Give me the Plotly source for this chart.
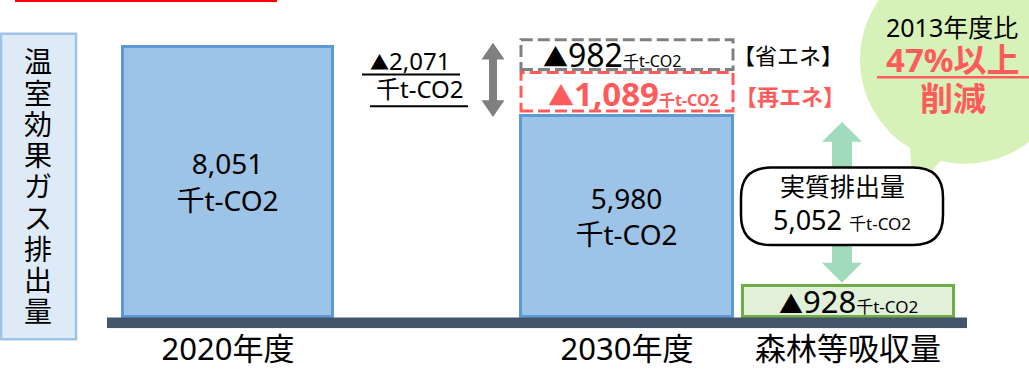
import plotly.graph_objects as go

# ---- data ----
categories = ["2020年度", "2030年度", "森林等吸収量"]
emissions = [8051, 5980, 928]          # 千t-CO2
reduction_total = 2071                 # 2020 -> 2030
reduction_saving = 982                 # 省エネ
reduction_renew = 1089                 # 再エネ
net_emission = 5052                    # 実質排出量
cut_ratio_label = "47%以上"
unit = "千t-CO2"
ylabel_text = "温室効果ガス排出量"

W, H = 1029, 369
FONT = "Noto Sans, Noto Sans CJK JP, sans-serif"
k = 273 / 8051.0                        # px per unit


def v(py):
    return (320 - py) / k


def P(x, y):
    return x / W, 1 - y / H


def path(points, close=True):
    s = ""
    for i, (x, y) in enumerate(points):
        px, pyy = P(x, y)
        s += ("M" if i == 0 else "L") + f"{px:.5f},{pyy:.5f} "
    return s + ("Z" if close else "")


def dbl_arrow(cx, ty, by, hw, hh, sw):
    pts = [(cx, ty), (cx + hw, ty + hh), (cx + sw, ty + hh), (cx + sw, by - hh),
           (cx + hw, by - hh), (cx, by), (cx - hw, by - hh), (cx - sw, by - hh),
           (cx - sw, ty + hh), (cx - hw, ty + hh)]
    return path(pts)


def round_rect(x0, y0, x1, y1, r):
    def p(x, y):
        a, b = P(x, y)
        return f"{a:.5f},{b:.5f}"
    return (f"M{p(x0 + r, y0)} L{p(x1 - r, y0)} Q{p(x1, y0)} {p(x1, y0 + r)} "
            f"L{p(x1, y1 - r)} Q{p(x1, y1)} {p(x1 - r, y1)} L{p(x0 + r, y1)} "
            f"Q{p(x0, y1)} {p(x0, y1 - r)} L{p(x0, y0 + r)} Q{p(x0, y0)} {p(x0 + r, y0)} Z")


def tri(size):
    return f"<span style='font-size:{size}px'>▲</span>"


def small(text, size):
    return f"<span style='font-size:{size}px'>{text}</span>"


xpos = [228, 627, 848]
widths = [210, 212, 211]
fills = ["#9DC3E6", "#9DC3E6", "#E2F0D9"]
lines = ["#5B9BD5", "#5B9BD5", "#70AD47"]
texts = [f"{emissions[0]:,}<br>{unit}", f"{emissions[1]:,}<br>{unit}", ""]

fig = go.Figure()
fig.add_trace(go.Bar(
    x=xpos, y=emissions, width=widths,
    marker=dict(color=fills, line=dict(color=lines, width=3)),
    text=texts, textposition="inside", insidetextanchor="middle",
    textangle=0, textfont=dict(size=28, color="black", family=FONT),
    hoverinfo="skip",
))

shapes = []
# y-axis label box
x0, y0 = P(1, 34); x1, y1 = P(76, 342)
shapes.append(dict(type="rect", xref="paper", yref="paper", x0=x0, y0=y0, x1=x1, y1=y1,
                   fillcolor="#DEEBF7", line=dict(color="#9DC3E6", width=2.5), layer="below"))
# red line at top
a0, b0 = P(15, 1); a1, b1 = P(277, 1)
shapes.append(dict(type="line", xref="paper", yref="paper", x0=a0, y0=b0, x1=a1, y1=b1,
                   line=dict(color="#FF0000", width=2)))
# bubble
cx0, cy0 = P(860, -45); cx1, cy1 = P(1070, 165)
shapes.append(dict(type="circle", xref="paper", yref="paper", x0=cx0, y0=cy1, x1=cx1, y1=cy0,
                   fillcolor="#D6F2B8", line=dict(width=0)))
shapes.append(dict(type="path", xref="paper", yref="paper",
                   path=path([(910, 148), (946, 156), (913, 194)]),
                   fillcolor="#D6F2B8", line=dict(width=0)))
# green double arrow
shapes.append(dict(type="path", xref="paper", yref="paper",
                   path=dbl_arrow(842, 123, 285, 20, 20, 10),
                   fillcolor="#A0DCBC", line=dict(width=0)))
# callout box
shapes.append(dict(type="path", xref="paper", yref="paper",
                   path=round_rect(741, 169, 943, 247, 30),
                   fillcolor="white", line=dict(color="black", width=2.5)))
# gray double arrow
shapes.append(dict(type="path", xref="paper", yref="paper",
                   path=dbl_arrow(493, 43, 118, 11.5, 17, 4),
                   fillcolor="#808080", line=dict(width=0)))
# dashed boxes (renewable / energy saving)
bx0, bx1 = xpos[1] - widths[1] / 2, xpos[1] + widths[1] / 2
shapes.append(dict(type="rect", xref="x", yref="y", x0=bx0, x1=bx1,
                   y0=v(112), y1=v(73), line=dict(color="#FF5B5B", width=3, dash="12px,5px")))
shapes.append(dict(type="rect", xref="x", yref="y", x0=bx0, x1=bx1,
                   y0=v(70), y1=v(40), line=dict(color="#808080", width=3, dash="12px,5px")))
# baseline
shapes.append(dict(type="rect", xref="x", yref="y", x0=107, x1=967, y0=v(331), y1=0,
                   fillcolor="#44546A", line=dict(width=0)))
# underlines
for (xa, xb, yy, col, wd) in [(362, 460, 75, "black", 2), (370, 468, 107, "black", 2),
                              (877, 1029, 78, "#FF5B5B", 2.5)]:
    a0, b0 = P(xa, yy); a1, b1 = P(xb, yy)
    shapes.append(dict(type="line", xref="paper", yref="paper", x0=a0, y0=b0, x1=a1, y1=b1,
                       line=dict(color=col, width=wd)))

ann = []


def add(x, y, text, size, color="black", bold=False, xanchor="center"):
    px, pyy = P(x, y)
    if bold:
        text = f"<b>{text}</b>"
    ann.append(dict(x=px, y=pyy, xref="paper", yref="paper", text=text, showarrow=False,
                    xanchor=xanchor, yanchor="middle",
                    font=dict(size=size, color=color, family=FONT)))


# vertical y label
for i, ch in enumerate(ylabel_text):
    add(38, 62 + i * 31.5, ch, 28)

add(410, 61, f"{tri(19)}{reduction_total:,}", 24)
add(420, 89, unit, 24)

add(612, 55, f"{tri(25)}{reduction_saving}{small(unit, 16)}", 32)
add(633, 94, f"{tri(26)}{reduction_renew:,}{small(unit, 16)}", 33,
    color="#FF5B5B", bold=True)
add(788, 55, "【省エネ】", 22)
add(790, 97, "【再エネ】", 22, color="#FF5B5B", bold=True)

add(952, 27, "2013年度比", 25)
add(953, 60, cut_ratio_label, 33, color="#FF5B5B", bold=True)
add(953, 99, "削減", 33, color="#FF5B5B", bold=True)

add(842, 188, "実質排出量", 25)
add(842, 221, f"{net_emission:,} {small(unit, 17)}", 27)

add(848, 303, f"{tri(24)}{emissions[2]}{small(unit, 17)}", 31)

fig.update_layout(
    width=W, height=H, margin=dict(l=0, r=0, t=0, b=0),
    paper_bgcolor="white", plot_bgcolor="white",
    showlegend=False, shapes=shapes, annotations=ann, bargap=0,
    xaxis=dict(range=[0, W], showgrid=False, zeroline=False, showline=False,
               tickvals=xpos, ticktext=categories, ticks="",
               tickfont=dict(size=31, color="black", family=FONT), fixedrange=True),
    yaxis=dict(range=[v(331), v(0)], domain=[1 - 331 / H, 1], visible=False,
               fixedrange=True),
)

fig.write_html("out.html")
